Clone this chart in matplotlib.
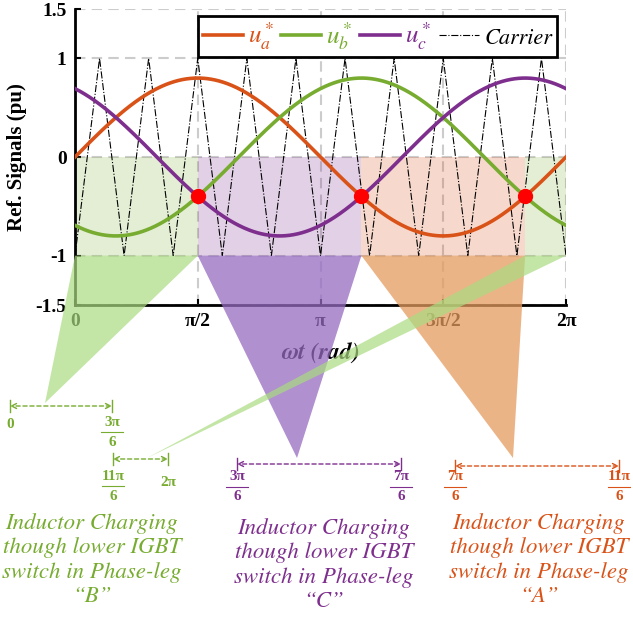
import numpy as np
import matplotlib.pyplot as plt
from matplotlib.patches import Polygon

plt.rcParams['mathtext.fontset'] = 'stix'

# reference signals (pu)
amp = 0.8
phase_a = 0.0
phase_b = -2 * np.pi / 3
phase_c = 2 * np.pi / 3

# triangular carrier vertices (t in units of pi/10)
carrier_k = list(range(21))
carrier_v = [-1, 1, -1, 1, -1, 1, -1, 1, -1, 1, -1, 1, -1, 1, -1, 1, -1, 1, -1, 1, -1]

# crossing points (red dots)
cross_t = [np.pi / 2, 7 * np.pi / 6, 11 * np.pi / 6]
cross_v = [-0.4, -0.4, -0.4]

# inductor charging intervals per phase-leg
int_b = [(0, np.pi / 2), (11 * np.pi / 6, 2 * np.pi)]
int_c = [(np.pi / 2, 7 * np.pi / 6)]
int_a = [(7 * np.pi / 6, 11 * np.pi / 6)]

xticks = [0, np.pi / 2, np.pi, 3 * np.pi / 2, 2 * np.pi]
xticklabels = ['0', 'π/2', 'π', '3π/2', '2π']
yticks = [-1.5, -1, 0, 1, 1.5]
yticklabels = ['-1.5', '-1', '0', '1', '1.5']

c_a = '#D95319'
c_b = '#77AC30'
c_c = '#7E2F8E'

serif = 'Liberation Serif'
ital = 'STIXGeneral'

fig = plt.figure(figsize=(6.33, 6.18), dpi=100)
ax = fig.add_axes([75 / 633, 1 - 305 / 618, 491 / 633, 296 / 618])

t = np.linspace(0, 2 * np.pi, 600)
ua = amp * np.sin(t + phase_a)
ub = amp * np.sin(t + phase_b)
uc = amp * np.sin(t + phase_c)
carrier_t = np.array(carrier_k) * np.pi / 10

# shaded intervals between 0 and -1
for lo, hi in int_b:
    ax.fill_between([lo, hi], -1, 0, color=c_b, alpha=0.2, lw=0, zorder=1)
for lo, hi in int_c:
    ax.fill_between([lo, hi], -1, 0, color=c_c, alpha=0.22, lw=0, zorder=1)
for lo, hi in int_a:
    ax.fill_between([lo, hi], -1, 0, color=c_a, alpha=0.22, lw=0, zorder=1)

ax.plot(t, ua, color=c_a, lw=2.6, label=r'$u_a^*$', zorder=3)
ax.plot(t, ub, color=c_b, lw=2.6, label=r'$u_b^*$', zorder=3)
ax.plot(t, uc, color=c_c, lw=2.6, label=r'$u_c^*$', zorder=3)
ax.plot(carrier_t, carrier_v, color='black', lw=0.8, ls='-.', label='Carrier', zorder=2)
ax.plot(cross_t, cross_v, 'o', color='red', ms=10, zorder=4)

ax.set_xlim(0, 2 * np.pi)
ax.set_ylim(-1.5, 1.5)
ax.set_xticks(xticks)
ax.set_xticklabels(xticklabels, family=serif, weight='bold', size=14)
ax.set_yticks(yticks)
ax.set_yticklabels(yticklabels, family=serif, weight='bold', size=14)
ax.tick_params(direction='in', length=4, width=1.5, pad=6)
ax.grid(True, ls=(0, (5, 3)), color='#CCCCCC', lw=1.5)
ax.set_axisbelow(True)
for s in ['top', 'right']:
    ax.spines[s].set_visible(False)
for s in ['left', 'bottom']:
    ax.spines[s].set_linewidth(2)
ax.set_ylabel('Ref. Signals (pu)', family=serif, weight='bold', size=15, labelpad=6)
ax.set_xlabel(r'ωt (rad)', family=ital, weight='bold', style='italic', size=17, labelpad=9)

leg = ax.legend(ncol=4, loc='upper right', bbox_to_anchor=(0.982, 0.978), fontsize=18,
                frameon=True, fancybox=False, edgecolor='black', framealpha=1,
                handlelength=1.6, handletextpad=0.2, columnspacing=0.3, borderpad=0.2,
                borderaxespad=0)
leg.get_frame().set_linewidth(2)
for txt, col in zip(leg.get_texts(), [c_a, c_b, c_c, 'black']):
    txt.set_color(col)
leg.get_texts()[3].set_fontfamily(ital)
leg.get_texts()[3].set_fontstyle('italic')
leg.get_texts()[3].set_fontsize(16)

# funnels from shaded intervals to the annotations below (vertex in data units)
px = lambda x: (x - 75) / (491 / (2 * np.pi))
py = lambda y: 1.5 - (y - 9) / (296 / 3)

ax.add_patch(Polygon([(int_c[0][0], -1), (int_c[0][1], -1), (px(297), py(458))],
                     closed=True, fc='#966BC0', alpha=0.75, lw=0, clip_on=False, zorder=5))
ax.add_patch(Polygon([(int_a[0][0], -1), (int_a[0][1], -1), (px(513), py(458))],
                     closed=True, fc='#E49B5F', alpha=0.75, lw=0, clip_on=False, zorder=5))
ax.add_patch(Polygon([(int_b[0][0], -1), (int_b[0][1], -1), (px(45), py(403))],
                     closed=True, fc='#AADB80', alpha=0.7, lw=0, clip_on=False, zorder=6))
ax.add_patch(Polygon([(int_b[1][0], -1), (int_b[1][1], -1), (px(147), py(458))],
                     closed=True, fc='#AADB80', alpha=0.7, lw=0, clip_on=False, zorder=6))

# annotation layer in pixel coordinates
ov = fig.add_axes([0, 0, 1, 1])
ov.set_xlim(0, 633)
ov.set_ylim(618, 0)
ov.axis('off')


def span(x0, x1, y, col):
    ov.annotate('', xy=(x0, y), xytext=(x1, y),
                arrowprops=dict(arrowstyle='<->', color=col, lw=1, ls=(0, (3, 2)),
                                shrinkA=0, shrinkB=0, mutation_scale=9))
    ov.plot([x0, x0], [y - 6, y + 6], color=col, lw=1)
    ov.plot([x1, x1], [y - 6, y + 6], color=col, lw=1)


def frac(x, y, num, den, col):
    ov.text(x, y, num, ha='center', va='center', family=serif, weight='bold', size=11, color=col)
    ov.plot([x - 11, x + 11], [y + 10, y + 10], color=col, lw=0.8)
    ov.text(x, y + 20, den, ha='center', va='center', family=serif, weight='bold', size=11, color=col)


def label(x, y, txt, col):
    ov.text(x, y, txt, ha='center', va='center', family=serif, weight='bold', size=11, color=col)


span(10, 112, 406, c_b)
label(10, 425, '0', c_b)
frac(112, 422, '3π', '6', c_b)
span(113, 168, 459, c_b)
frac(113, 476, '11π', '6', c_b)
label(168, 482, '2π', c_b)

span(237, 401, 464, c_c)
frac(237, 477, '3π', '6', c_c)
frac(401, 477, '7π', '6', c_c)

span(455, 619, 466, c_a)
frac(455, 477, '7π', '6', c_a)
frac(619, 477, '11π', '6', c_a)

note = 'Inductor Charging\nthough lower IGBT\nswitch in Phase-leg\n“{}”'
for x, y, key, col in [(92, 560, 'B', c_b), (324, 565, 'C', c_c), (539, 560, 'A', c_a)]:
    ov.text(x, y, note.format(key), ha='center', va='center', family=ital, fontstyle='italic',
            fontweight='normal', size=16.5, color=col, linespacing=1.2)

fig.savefig('out.png', dpi=100)
